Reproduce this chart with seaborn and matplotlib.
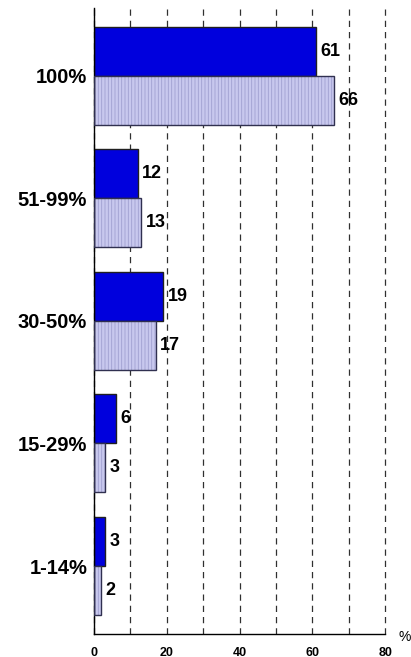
import matplotlib
matplotlib.use('Agg')
import matplotlib.pyplot as plt
import seaborn as sns
import pandas as pd

# values
categories = ['100%', '51-99%', '30-50%', '15-29%', '1-14%']
series_a = [61, 12, 19, 6, 3]
series_b = [66, 13, 17, 3, 2]
x_ticks = [0, 20, 40, 60, 80]

df = pd.DataFrame({
    'cat': categories * 2,
    'val': series_a + series_b,
    'series': ['A'] * len(categories) + ['B'] * len(categories),
})

sns.set_style('white')
plt.rcParams['font.family'] = ['Liberation Sans', 'DejaVu Sans']
plt.rcParams['text.color'] = 'black'
plt.rcParams['xtick.color'] = 'black'
plt.rcParams['ytick.color'] = 'black'
plt.rcParams['hatch.linewidth'] = 0.6

fig = plt.figure(figsize=(4.11, 6.57), dpi=100)
ax = fig.add_axes([0.229, 0.035, 0.708, 0.953])

sns.barplot(data=df, x='val', y='cat', hue='series', order=categories,
            hue_order=['A', 'B'], palette=['#0000dd', '#c8c8ee'],
            orient='h', width=0.8, legend=False, saturation=1, ax=ax,
            edgecolor='#202020', linewidth=1)

# light bars get a fine vertical hatch
for bar in ax.containers[1]:
    bar.set_hatch('|||||')
    bar.set_edgecolor('#a0a0d0')
    bar.set_linewidth(0)
    x, y = bar.get_xy()
    ax.add_patch(plt.Rectangle((x, y), bar.get_width(), bar.get_height(),
                               fill=False, edgecolor='#303050', linewidth=1, zorder=3))

for cont in ax.containers[:2]:
    ax.bar_label(cont, fmt='%d', padding=3, fontsize=13, fontweight='bold')

ax.set_xlim(0, 80)
ax.set_ylim(4.555, -0.555)
ax.set_xticks(x_ticks)
ax.set_xticks(range(0, 81, 10), minor=True)
ax.xaxis.grid(True, which='both', linestyle=(0, (5, 4)), color='#303030', linewidth=0.9)
for gl in ax.xaxis.get_gridlines() + ax.xaxis.get_minorticklines():
    gl.set_clip_on(False)
ax.set_axisbelow(True)
ax.tick_params(axis='x', which='both', labelsize=9, length=0, pad=9)
ax.tick_params(axis='y', labelsize=14.5, length=0, pad=5)
for lab in ax.get_xticklabels() + ax.get_yticklabels():
    lab.set_fontweight('bold')
ax.set_xlabel('')
ax.set_ylabel('')
for s in ['top', 'right']:
    ax.spines[s].set_visible(False)
for s in ['left', 'bottom']:
    ax.spines[s].set_color('black')
    ax.spines[s].set_linewidth(1)
ax.text(1.069, -0.004, '%', transform=ax.transAxes, fontsize=10, va='center', ha='center')

fig.savefig('out.png', dpi=100)
